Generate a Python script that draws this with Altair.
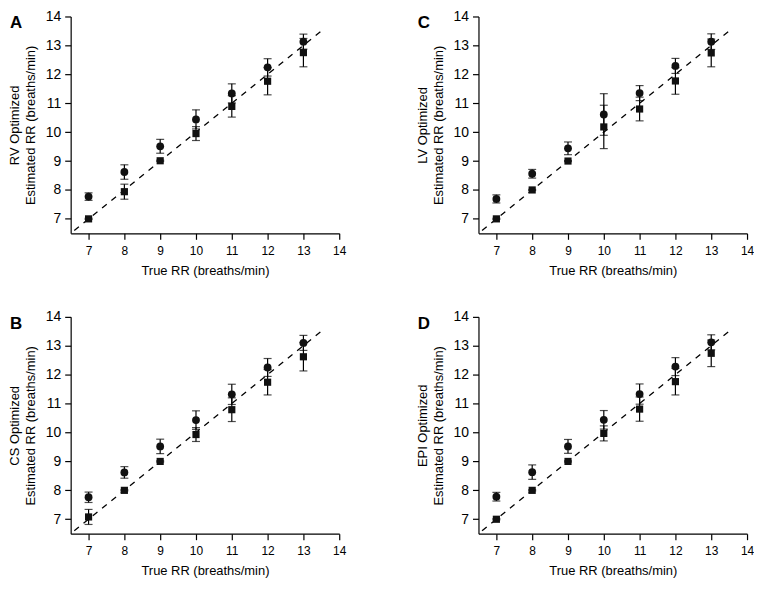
import altair as alt
import pandas as pd

FONT = "Liberation Sans"

true_rr = [7, 8, 9, 10, 11, 12, 13]
ref_line = [6.6, 13.5]
axis_ticks = [7, 8, 9, 10, 11, 12, 13, 14]

# Panel A - RV optimized
rv_circle_mean = [7.77, 8.62, 9.51, 10.44, 11.34, 12.24, 13.13]
rv_circle_sd = [0.13, 0.25, 0.24, 0.33, 0.33, 0.30, 0.26]
rv_square_mean = [7.00, 7.94, 9.01, 9.95, 10.89, 11.76, 12.75]
rv_square_sd = [0.02, 0.26, 0.02, 0.24, 0.37, 0.47, 0.49]

# Panel C - LV optimized
lv_circle_mean = [7.69, 8.56, 9.44, 10.61, 11.35, 12.29, 13.13]
lv_circle_sd = [0.14, 0.15, 0.22, 0.72, 0.26, 0.26, 0.27]
lv_square_mean = [7.00, 8.00, 9.00, 10.18, 10.80, 11.77, 12.74]
lv_square_sd = [0.02, 0.02, 0.02, 0.75, 0.41, 0.46, 0.48]

# Panel B - CS optimized
cs_circle_mean = [7.76, 8.62, 9.52, 10.43, 11.32, 12.25, 13.10]
cs_circle_sd = [0.18, 0.20, 0.25, 0.32, 0.35, 0.31, 0.26]
cs_square_mean = [7.08, 8.00, 9.00, 9.93, 10.79, 11.74, 12.62]
cs_square_sd = [0.26, 0.02, 0.02, 0.24, 0.41, 0.44, 0.49]

# Panel D - EPI optimized
epi_circle_mean = [7.78, 8.63, 9.52, 10.44, 11.33, 12.28, 13.12]
epi_circle_sd = [0.15, 0.25, 0.24, 0.32, 0.35, 0.31, 0.26]
epi_square_mean = [7.00, 8.00, 9.00, 9.97, 10.81, 11.76, 12.74]
epi_square_sd = [0.02, 0.02, 0.02, 0.26, 0.42, 0.46, 0.46]

W = 270
H = 218


def panel(letter, label, cm, cs, sm, ss):
    df = pd.DataFrame({
        "true": true_rr * 2,
        "est": cm + sm,
        "sd": cs + ss,
        "series": ["circle"] * len(true_rr) + ["square"] * len(true_rr),
    })
    xs = alt.Scale(domain=[6.5, 14], nice=False, zero=False)
    ys = alt.Scale(domain=[6.5, 14], nice=False, zero=False)
    xax = alt.Axis(values=axis_ticks, title="True RR (breaths/min)", labelFontSize=12,
                   labelPadding=6, titlePadding=8, titleFontSize=13, labelOverlap=False,
                   labelFlush=False)
    yax = alt.Axis(values=axis_ticks, title=[f"{label} Optimized", "Estimated RR (breaths/min)"],
                   labelFontSize=14, labelPadding=4, titlePadding=8, titleFontSize=13,
                   titleLineHeight=16, labelOverlap=False, labelFlush=False)
    X = alt.X("true:Q", scale=xs, axis=xax)
    Y = alt.Y("est:Q", scale=ys, axis=yax)
    Ylo = alt.Y("lo:Q", scale=ys, axis=yax)
    Yhi = alt.Y("hi:Q", scale=ys, axis=yax)

    base = alt.Chart(df).transform_calculate(
        lo="datum.est - datum.sd", hi="datum.est + datum.sd"
    )
    line = alt.Chart(pd.DataFrame({"true": ref_line, "est": ref_line})).mark_line(
        color="black", strokeDash=[6, 6], strokeWidth=1.3
    ).encode(x=X, y=Y)
    rules = base.mark_rule(color="black", strokeWidth=1.2).encode(x=X, y=Ylo, y2="hi:Q")
    cap_lo = base.mark_tick(color="black", orient="horizontal", size=8, thickness=1.2).encode(
        x=X, y=Ylo
    )
    cap_hi = base.mark_tick(color="black", orient="horizontal", size=8, thickness=1.2).encode(
        x=X, y=Yhi
    )
    circles = base.transform_filter("datum.series == 'circle'").mark_point(
        shape="circle", filled=True, size=62, color="#111111", opacity=1
    ).encode(x=X, y=Y)
    squares = base.transform_filter("datum.series == 'square'").mark_point(
        shape="square", filled=True, size=52, color="#111111", opacity=1
    ).encode(x=X, y=Y)
    tag = alt.Chart(pd.DataFrame({"t": [letter]})).mark_text(
        align="left", baseline="alphabetic", fontSize=17, fontWeight="bold", font=FONT, color="black"
    ).encode(text="t:N", x=alt.value(-61), y=alt.value(12))
    return alt.layer(line, rules, cap_lo, cap_hi, squares, circles, tag).properties(width=W, height=H)


A = panel("A", "RV", rv_circle_mean, rv_circle_sd, rv_square_mean, rv_square_sd)
C = panel("C", "LV", lv_circle_mean, lv_circle_sd, lv_square_mean, lv_square_sd)
B = panel("B", "CS", cs_circle_mean, cs_circle_sd, cs_square_mean, cs_square_sd)
D = panel("D", "EPI", epi_circle_mean, epi_circle_sd, epi_square_mean, epi_square_sd)

row1 = alt.hconcat(A, C, spacing=70)
row2 = alt.hconcat(B, D, spacing=70)
chart = alt.vconcat(row1, row2, spacing=33).properties(padding=0).configure_view(
    stroke=None
).configure_axis(
    grid=False, domainColor="black", tickColor="black", labelColor="black", titleColor="black",
    tickSize=6, domainWidth=1.2, tickWidth=1.2, labelFont=FONT, titleFont=FONT,
    titleFontWeight="normal"
)

chart.save("out.html", embed_options={"renderer": "svg", "actions": False})
